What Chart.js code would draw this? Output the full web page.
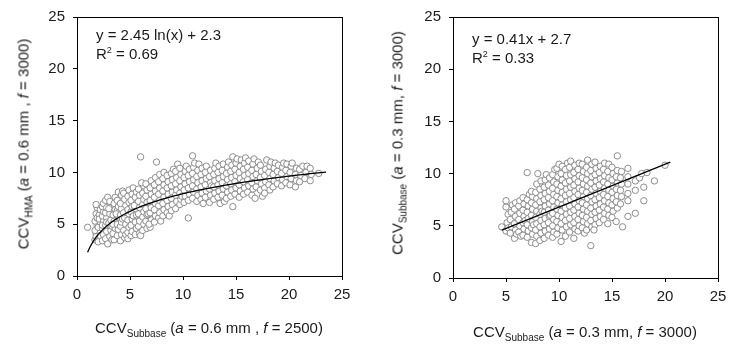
<!DOCTYPE html>
<html>
<head>
<meta charset="utf-8">
<script src="https://cdn.jsdelivr.net/npm/chart.js@4"></script>
<style>
  html,body{margin:0;padding:0;background:#fff;}
  #wrap{position:relative;width:738px;height:345px;overflow:hidden;font-family:"Liberation Sans",Arial,sans-serif;color:#1a1a1a;}
  canvas{position:absolute;top:0;}
  .t{position:absolute;white-space:nowrap;font-size:15px;line-height:15px;}
  .t sub{font-size:10px;vertical-align:-4px;line-height:0;}
  .t sup{font-size:9px;vertical-align:6px;line-height:0;}
  .rot{transform-origin:center center;transform:translate(-50%,-50%) rotate(-90deg);}
  .hx{transform:translateX(-50%);}
</style>
</head>
<body>
<div id="wrap">
  <canvas id="c1" width="370" height="345" style="left:0"></canvas>
  <canvas id="c2" width="368" height="345" style="left:370px"></canvas>

  <div class="t rot" style="left:23px;top:144px;">CCV<sub>HMA</sub> (<i>a</i> = 0.6 mm , <i>f</i> = 3000)</div>
  <div class="t hx" style="left:209px;top:320px;">CCV<sub>Subbase</sub> (<i>a</i> = 0.6 mm , <i>f</i> = 2500)</div>
  <div class="t" style="left:96px;top:27px;">y = 2.45 ln(x) + 2.3</div>
  <div class="t" style="left:96px;top:46px;">R<sup>2</sup> = 0.69</div>

  <div class="t rot" style="left:397px;top:143px;">CCV<sub>Subbase</sub> (<i>a</i> = 0.3 mm, <i>f</i> = 3000)</div>
  <div class="t hx" style="left:585px;top:324px;">CCV<sub>Subbase</sub> (<i>a</i> = 0.3 mm, <i>f</i> = 3000)</div>
  <div class="t" style="left:472px;top:31px;">y = 0.41x + 2.7</div>
  <div class="t" style="left:472px;top:50px;">R<sup>2</sup> = 0.33</div>
</div>
<script>
// ---- Data ----
const axisTicks = [0, 5, 10, 15, 20, 25];

// Left panel: CCV_Subbase (a=0.6mm, f=2500) vs CCV_HMA (a=0.6mm, f=3000)
const leftPoints = [
 [1.0,4.7],
 [1.7,3.5],[1.8,4.1],[1.9,4.9],[1.7,5.3],[1.8,6.0],[1.9,6.6],[1.8,6.9],[1.9,5.6],[1.7,4.4],[1.8,3.8],
 [2.1,3.7],[2.2,4.2],[2.0,4.7],[2.2,5.2],[2.1,5.9],[2.2,6.4],[2.0,3.3],[2.1,5.5],[2.2,3.9],
 [2.4,3.4],[2.5,4.0],[2.4,4.6],[2.5,5.3],[2.4,5.8],[2.5,6.2],[2.4,6.7],[2.5,7.0],[2.4,4.9],
 [2.7,3.6],[2.8,4.3],[2.7,4.9],[2.8,5.6],[2.7,6.1],[2.8,6.6],[2.7,7.3],[2.9,7.6],[2.9,3.1],[2.8,5.2],
 [3.1,3.8],[3.2,4.4],[3.0,5.1],[3.2,5.4],[3.1,6.0],[3.2,6.9],[3.1,7.2],[3.3,4.8],[3.0,6.5],[3.3,3.5],
 [3.5,3.5],[3.4,4.1],[3.6,4.6],[3.5,5.3],[3.4,5.9],[3.6,6.4],[3.5,7.0],[3.6,7.6],[3.4,5.0],
 [3.8,3.9],[3.9,4.5],[3.8,5.0],[3.9,5.7],[3.8,6.3],[3.9,6.7],[3.8,7.3],[3.9,8.1],[3.7,6.0],
 [4.1,3.4],[4.2,4.0],[4.1,4.8],[4.2,5.2],[4.1,5.9],[4.2,6.5],[4.1,7.0],[4.2,7.8],[4.3,8.2],[4.3,5.5],
 [4.5,3.7],[4.4,4.4],[4.6,5.0],[4.5,5.6],[4.4,6.1],[4.6,6.8],[4.5,7.4],[4.4,8.0],[4.6,4.0],
 [4.8,4.2],[4.9,4.7],[4.8,5.4],[4.9,6.0],[4.8,6.4],[4.9,7.1],[4.8,7.7],[4.9,8.3],[4.8,3.6],
 [5.1,3.9],[5.2,4.3],[5.1,4.9],[5.2,5.5],[5.1,6.2],[5.2,6.7],[5.1,7.3],[5.2,7.9],[5.3,8.5],[5.3,5.8],
 [5.5,4.0],[5.6,4.6],[5.5,5.2],[5.6,5.9],[5.5,6.5],[5.6,7.0],[5.5,7.6],[5.6,8.1],[5.4,6.8],
 [5.9,4.1],[5.8,4.8],[5.9,5.3],[5.8,6.0],[5.9,6.6],[5.8,7.2],[5.9,7.8],[5.8,8.4],[6.0,11.5],[6.0,3.9],
 [6.2,4.4],[6.3,5.0],[6.2,5.7],[6.3,6.2],[6.2,6.9],[6.3,7.4],[6.2,8.0],[6.3,8.7],[6.1,9.0],
 [6.6,4.6],[6.5,5.3],[6.6,5.9],[6.5,6.5],[6.6,7.1],[6.5,7.7],[6.6,8.3],[6.5,8.9],[6.7,6.0],
 [6.9,4.7],[7.0,5.4],[6.9,6.1],[7.0,6.6],[6.9,7.3],[7.0,7.9],[6.9,8.5],[7.0,9.2],[6.8,5.0],
 [7.3,5.2],[7.4,5.8],[7.3,6.4],[7.4,7.0],[7.3,7.6],[7.4,8.2],[7.3,8.8],[7.4,9.5],[7.5,11.0],
 [7.7,5.6],[7.8,6.1],[7.7,6.8],[7.8,7.3],[7.7,7.9],[7.8,8.5],[7.7,9.1],[7.8,9.8],[7.9,5.3],
 [8.1,5.8],[8.2,6.4],[8.1,7.0],[8.2,7.6],[8.1,8.2],[8.2,8.8],[8.1,9.4],[8.2,10.0],
 [8.5,6.1],[8.6,6.7],[8.5,7.3],[8.6,7.9],[8.5,8.5],[8.6,9.1],[8.5,9.7],[8.7,5.8],
 [8.9,6.3],[9.0,6.9],[8.9,7.5],[9.0,8.1],[8.9,8.7],[9.0,9.3],[8.9,9.9],[9.1,10.3],
 [9.3,6.5],[9.4,7.2],[9.3,7.8],[9.4,8.3],[9.3,8.9],[9.4,9.5],[9.3,10.1],[9.5,10.8],
 [9.7,6.9],[9.8,7.4],[9.7,8.0],[9.8,8.6],[9.7,9.2],[9.8,9.8],[9.7,10.4],[9.9,7.7],
 [10.1,7.1],[10.2,7.7],[10.1,8.3],[10.2,8.9],[10.1,9.5],[10.2,10.1],[10.5,5.6],[10.3,10.6],
 [10.5,7.3],[10.6,7.9],[10.5,8.5],[10.6,9.1],[10.5,9.7],[10.6,10.3],[10.9,11.6],
 [10.9,7.5],[11.0,8.1],[10.9,8.7],[11.0,9.3],[10.9,9.9],[11.0,10.5],[11.1,10.9],
 [11.3,7.2],[11.4,7.8],[11.3,8.4],[11.4,9.0],[11.3,9.6],[11.4,10.2],[11.5,10.8],
 [11.7,7.4],[11.8,8.0],[11.7,8.6],[11.8,9.2],[11.7,9.8],[11.8,10.4],[11.9,7.0],
 [12.1,7.6],[12.2,8.2],[12.1,8.8],[12.2,9.4],[12.1,10.0],[12.2,10.6],
 [12.5,7.1],[12.6,7.8],[12.5,8.4],[12.6,9.0],[12.5,9.6],[12.6,10.2],[12.7,8.7],
 [12.9,7.4],[13.0,8.0],[12.9,8.6],[13.0,9.2],[12.9,9.8],[13.0,10.4],[13.1,10.9],
 [13.3,7.6],[13.4,8.2],[13.3,8.8],[13.4,9.4],[13.3,10.0],[13.4,10.6],[13.5,7.0],
 [13.7,7.8],[13.8,8.4],[13.7,9.0],[13.8,9.6],[13.7,10.2],[13.8,10.8],[13.9,7.2],
 [14.1,7.5],[14.2,8.1],[14.1,8.7],[14.2,9.3],[14.1,9.9],[14.2,10.5],[14.3,11.0],
 [14.5,7.7],[14.6,8.3],[14.5,8.9],[14.6,9.5],[14.5,10.1],[14.6,10.7],[14.7,11.5],[14.7,6.7],
 [14.9,7.9],[15.0,8.5],[14.9,9.1],[15.0,9.7],[14.9,10.3],[15.0,10.9],[15.1,11.3],
 [15.3,7.6],[15.4,8.2],[15.3,8.8],[15.4,9.4],[15.3,10.0],[15.4,10.6],[15.5,11.2],
 [15.7,7.9],[15.8,8.5],[15.7,9.1],[15.8,9.7],[15.7,10.3],[15.8,10.9],[15.9,11.4],
 [16.1,8.1],[16.2,8.7],[16.1,9.3],[16.2,9.9],[16.1,10.5],[16.2,11.1],
 [16.5,7.8],[16.6,8.4],[16.5,9.0],[16.6,9.6],[16.5,10.2],[16.6,10.8],[16.7,11.3],[16.8,7.5],
 [16.9,8.6],[17.0,9.2],[16.9,9.8],[17.0,10.4],[17.1,11.0],
 [17.3,8.3],[17.4,8.9],[17.3,9.5],[17.4,10.1],[17.3,10.7],[17.5,7.7],
 [17.7,8.5],[17.8,9.1],[17.7,9.7],[17.8,10.3],[17.9,11.2],[17.7,8.0],
 [18.1,8.8],[18.2,9.4],[18.1,10.0],[18.2,10.6],[18.3,11.0],[18.2,8.3],
 [18.5,8.6],[18.6,9.2],[18.5,9.8],[18.6,10.4],[18.7,10.9],
 [18.9,8.9],[19.0,9.5],[18.9,10.1],[19.0,10.7],
 [19.3,8.7],[19.4,9.3],[19.3,9.9],[19.4,10.5],[19.5,10.9],
 [19.7,9.0],[19.8,9.6],[19.7,10.2],[19.8,10.8],
 [20.1,8.8],[20.2,9.4],[20.1,10.0],[20.2,10.6],[20.3,10.9],
 [20.6,8.6],[20.7,9.2],[20.6,9.8],[20.7,10.4],
 [21.0,9.1],[21.1,9.7],[21.0,10.3],[21.3,10.6],
 [21.5,9.4],[21.6,10.0],[21.7,10.6],
 [22.0,9.2],[22.1,9.8],[22.0,10.4],
 [22.8,9.9]
];

// Right panel: CCV_Subbase (a=0.3mm, f=3000) vs CCV_Subbase (a=0.3mm, f=3000)
const rightPoints = [
 [4.6,4.9],
 [5.0,4.5],[5.1,5.3],[5.0,6.8],[5.0,7.4],[5.2,4.8],[5.2,6.1],
 [5.4,4.3],[5.5,4.9],[5.4,5.6],[5.5,6.3],[5.6,7.0],
 [5.8,3.8],[5.9,4.6],[5.8,5.2],[5.9,5.9],[5.8,6.6],[5.9,7.2],[6.0,4.2],
 [6.2,4.4],[6.3,5.0],[6.2,5.6],[6.3,6.2],[6.2,6.9],[6.3,7.4],[6.4,4.0],
 [6.6,4.1],[6.7,4.7],[6.6,5.3],[6.7,5.9],[6.6,6.5],[6.7,7.1],[6.6,7.7],[6.8,5.5],
 [7.0,3.9],[7.1,4.5],[7.0,5.1],[7.1,5.7],[7.0,6.3],[7.1,6.9],[7.0,7.5],[7.0,10.1],[7.2,8.0],
 [7.4,3.4],[7.5,4.2],[7.4,4.8],[7.5,5.4],[7.4,6.0],[7.5,6.6],[7.4,7.2],[7.5,7.8],[7.4,8.3],[7.6,5.1],
 [7.8,3.3],[7.9,4.0],[7.8,4.6],[7.9,5.2],[7.8,5.8],[7.9,6.4],[7.8,7.0],[7.9,7.6],[7.8,8.2],[7.9,9.0],[8.0,10.0],
 [8.2,3.6],[8.3,4.3],[8.2,4.9],[8.3,5.5],[8.2,6.1],[8.3,6.7],[8.2,7.3],[8.3,7.9],[8.2,8.5],[8.3,9.3],[8.4,6.4],
 [8.6,3.8],[8.7,4.5],[8.6,5.1],[8.7,5.7],[8.6,6.3],[8.7,6.9],[8.6,7.5],[8.7,8.1],[8.6,8.7],[8.7,9.4],[8.8,9.9],
 [9.0,4.1],[9.1,4.7],[9.0,5.3],[9.1,5.9],[9.0,6.5],[9.1,7.1],[9.0,7.7],[9.1,8.3],[9.0,8.9],[9.1,9.6],[9.2,6.0],
 [9.4,3.9],[9.5,4.4],[9.4,5.0],[9.5,5.6],[9.4,6.2],[9.5,6.8],[9.4,7.4],[9.5,8.0],[9.4,8.6],[9.5,9.2],[9.4,9.9],[9.6,10.4],
 [9.8,4.2],[9.9,4.8],[9.8,5.4],[9.9,6.0],[9.8,6.6],[9.9,7.2],[9.8,7.8],[9.9,8.4],[9.8,9.0],[9.9,9.7],[9.8,10.5],[10.0,10.9],
 [10.2,3.5],[10.3,4.6],[10.2,5.2],[10.3,5.8],[10.2,6.4],[10.3,7.0],[10.2,7.6],[10.3,8.2],[10.2,8.8],[10.3,9.4],[10.2,10.0],[10.3,10.7],
 [10.6,4.0],[10.7,4.9],[10.6,5.5],[10.7,6.1],[10.6,6.7],[10.7,7.3],[10.6,7.9],[10.7,8.5],[10.6,9.1],[10.7,9.8],[10.6,10.4],[10.8,11.0],
 [11.0,4.4],[11.1,5.1],[11.0,5.7],[11.1,6.3],[11.0,6.9],[11.1,7.5],[11.0,8.1],[11.1,8.7],[11.0,9.3],[11.1,9.9],[11.0,10.6],[11.1,11.2],
 [11.4,3.8],[11.5,4.7],[11.4,5.3],[11.5,5.9],[11.4,6.5],[11.5,7.1],[11.4,7.7],[11.5,8.3],[11.4,8.9],[11.5,9.5],[11.4,10.1],[11.5,10.8],
 [11.8,4.5],[11.9,5.0],[11.8,5.6],[11.9,6.2],[11.8,6.8],[11.9,7.4],[11.8,8.0],[11.9,8.6],[11.8,9.2],[11.9,9.8],[11.8,10.4],[11.9,11.0],
 [12.2,4.8],[12.3,5.4],[12.2,6.0],[12.3,6.6],[12.2,7.2],[12.3,7.8],[12.2,8.4],[12.3,9.0],[12.2,9.6],[12.3,10.2],[12.2,10.9],[12.4,4.3],
 [12.6,4.6],[12.7,5.2],[12.6,5.8],[12.7,6.4],[12.6,7.0],[12.7,7.6],[12.6,8.2],[12.7,8.8],[12.6,9.4],[12.7,10.0],[12.6,10.6],[12.7,11.3],
 [13.0,3.1],[13.1,4.9],[13.0,5.5],[13.1,6.1],[13.0,6.7],[13.1,7.3],[13.0,7.9],[13.1,8.5],[13.0,9.1],[13.1,9.7],[13.0,10.3],[13.1,10.9],
 [13.4,5.1],[13.5,5.7],[13.4,6.3],[13.5,6.9],[13.4,7.5],[13.5,8.1],[13.4,8.7],[13.5,9.3],[13.4,9.9],[13.5,10.5],[13.4,11.1],[13.3,4.6],
 [13.8,5.3],[13.9,5.9],[13.8,6.5],[13.9,7.1],[13.8,7.7],[13.9,8.3],[13.8,8.9],[13.9,9.5],[13.8,10.1],[13.9,10.7],
 [14.2,5.6],[14.3,6.2],[14.2,6.8],[14.3,7.4],[14.2,8.0],[14.3,8.6],[14.2,9.2],[14.3,9.8],[14.2,10.4],[14.3,11.0],
 [14.6,5.2],[14.7,6.0],[14.6,6.6],[14.7,7.2],[14.6,7.8],[14.7,8.4],[14.6,9.0],[14.7,9.6],[14.6,10.2],[14.7,10.9],
 [15.0,5.8],[15.1,6.4],[15.0,7.0],[15.1,7.6],[15.0,8.2],[15.1,8.8],[15.0,9.4],[15.1,10.0],[15.0,10.6],
 [15.4,5.4],[15.5,6.7],[15.4,7.3],[15.5,7.9],[15.4,8.5],[15.5,9.1],[15.4,9.7],[15.5,10.3],[15.5,11.7],
 [15.8,7.1],[15.9,7.8],[15.8,8.4],[15.9,9.0],[15.8,9.6],[15.9,10.2],
 [16.0,4.9],
 [16.5,5.9],[16.5,7.4],[16.5,8.1],[16.5,9.0],[16.5,9.7],[16.5,10.5],
 [17.2,6.2],[17.2,8.4],[17.2,9.3],
 [17.6,9.6],[17.8,10.0],
 [18.0,7.4],[18.0,8.7],[18.3,10.1],
 [19.0,9.3],
 [20.0,10.8]
];

// Fitted trend lines as printed on the chart
const leftFit  = { a: 2.45, b: 2.3, xFrom: 1.0, xTo: 23.5 };   // y = a ln(x) + b
const rightFit = { m: 0.41, c: 2.7, xFrom: 4.6, xTo: 20.5 };   // y = m x + c

function toXY(arr){ return arr.map(p => ({x:p[0], y:p[1]})); }
function logCurve(f){
  const pts = [];
  const n = 90;
  for(let i=0;i<=n;i++){ const x = f.xFrom + (f.xTo-f.xFrom)*i/n; pts.push({x, y: f.a*Math.log(x)+f.b}); }
  return pts;
}
function linLine(f){ return [{x:f.xFrom,y:f.m*f.xFrom+f.c},{x:f.xTo,y:f.m*f.xTo+f.c}]; }

const framePlugin = {
  id:'frame',
  afterDatasetsDraw(chart){
    const {ctx, chartArea:a} = chart;
    ctx.save();
    ctx.strokeStyle = '#000';
    ctx.lineWidth = 1;
    ctx.strokeRect(Math.round(a.left)+0.5, Math.round(a.top)+0.5, Math.round(a.right-a.left), Math.round(a.bottom-a.top));
    ctx.restore();
  }
};

function makeChart(id, points, fitPts, yW, xH, pad){
  const tickFont = {family:'"Liberation Sans", Arial, sans-serif', size:15};
  return new Chart(document.getElementById(id), {
    type:'scatter',
    data:{ datasets:[
      { type:'line', data:fitPts, borderColor:'#000', borderWidth:1.3, pointRadius:0, fill:false, order:0, tension:0 },
      { data:toXY(points), pointRadius:3.2, pointHoverRadius:3.2, pointBorderWidth:1, borderColor:'#8c8c8c', backgroundColor:'#ffffff', order:1 }
    ]},
    options:{
      responsive:false, animation:false, devicePixelRatio:1,
      layout:{ padding: pad },
      plugins:{ legend:{display:false}, tooltip:{enabled:false} },
      scales:{
        x:{ type:'linear', min:0, max:25,
            afterBuildTicks(s){ s.ticks = axisTicks.map(v=>({value:v})); },
            afterFit(s){ s.height = xH; },
            ticks:{ font:tickFont, color:'#1a1a1a', padding:6 },
            grid:{ display:true, drawOnChartArea:false, drawTicks:true, tickLength:4, color:'#000' },
            border:{ display:true, color:'#000' } },
        y:{ type:'linear', min:0, max:25,
            afterBuildTicks(s){ s.ticks = axisTicks.map(v=>({value:v})); },
            afterFit(s){ s.width = yW; },
            ticks:{ font:tickFont, color:'#1a1a1a', padding:8 },
            grid:{ display:true, drawOnChartArea:false, drawTicks:true, tickLength:4, color:'#000' },
            border:{ display:true, color:'#000' } }
      }
    },
    plugins:[framePlugin]
  });
}

makeChart('c1', leftPoints, logCurve(leftFit), 77, 69, {top:15, right:28, left:0, bottom:0});
makeChart('c2', rightPoints, linLine(rightFit), 83, 67, {top:16, right:20, left:0, bottom:0});
</script>
</body>
</html>
